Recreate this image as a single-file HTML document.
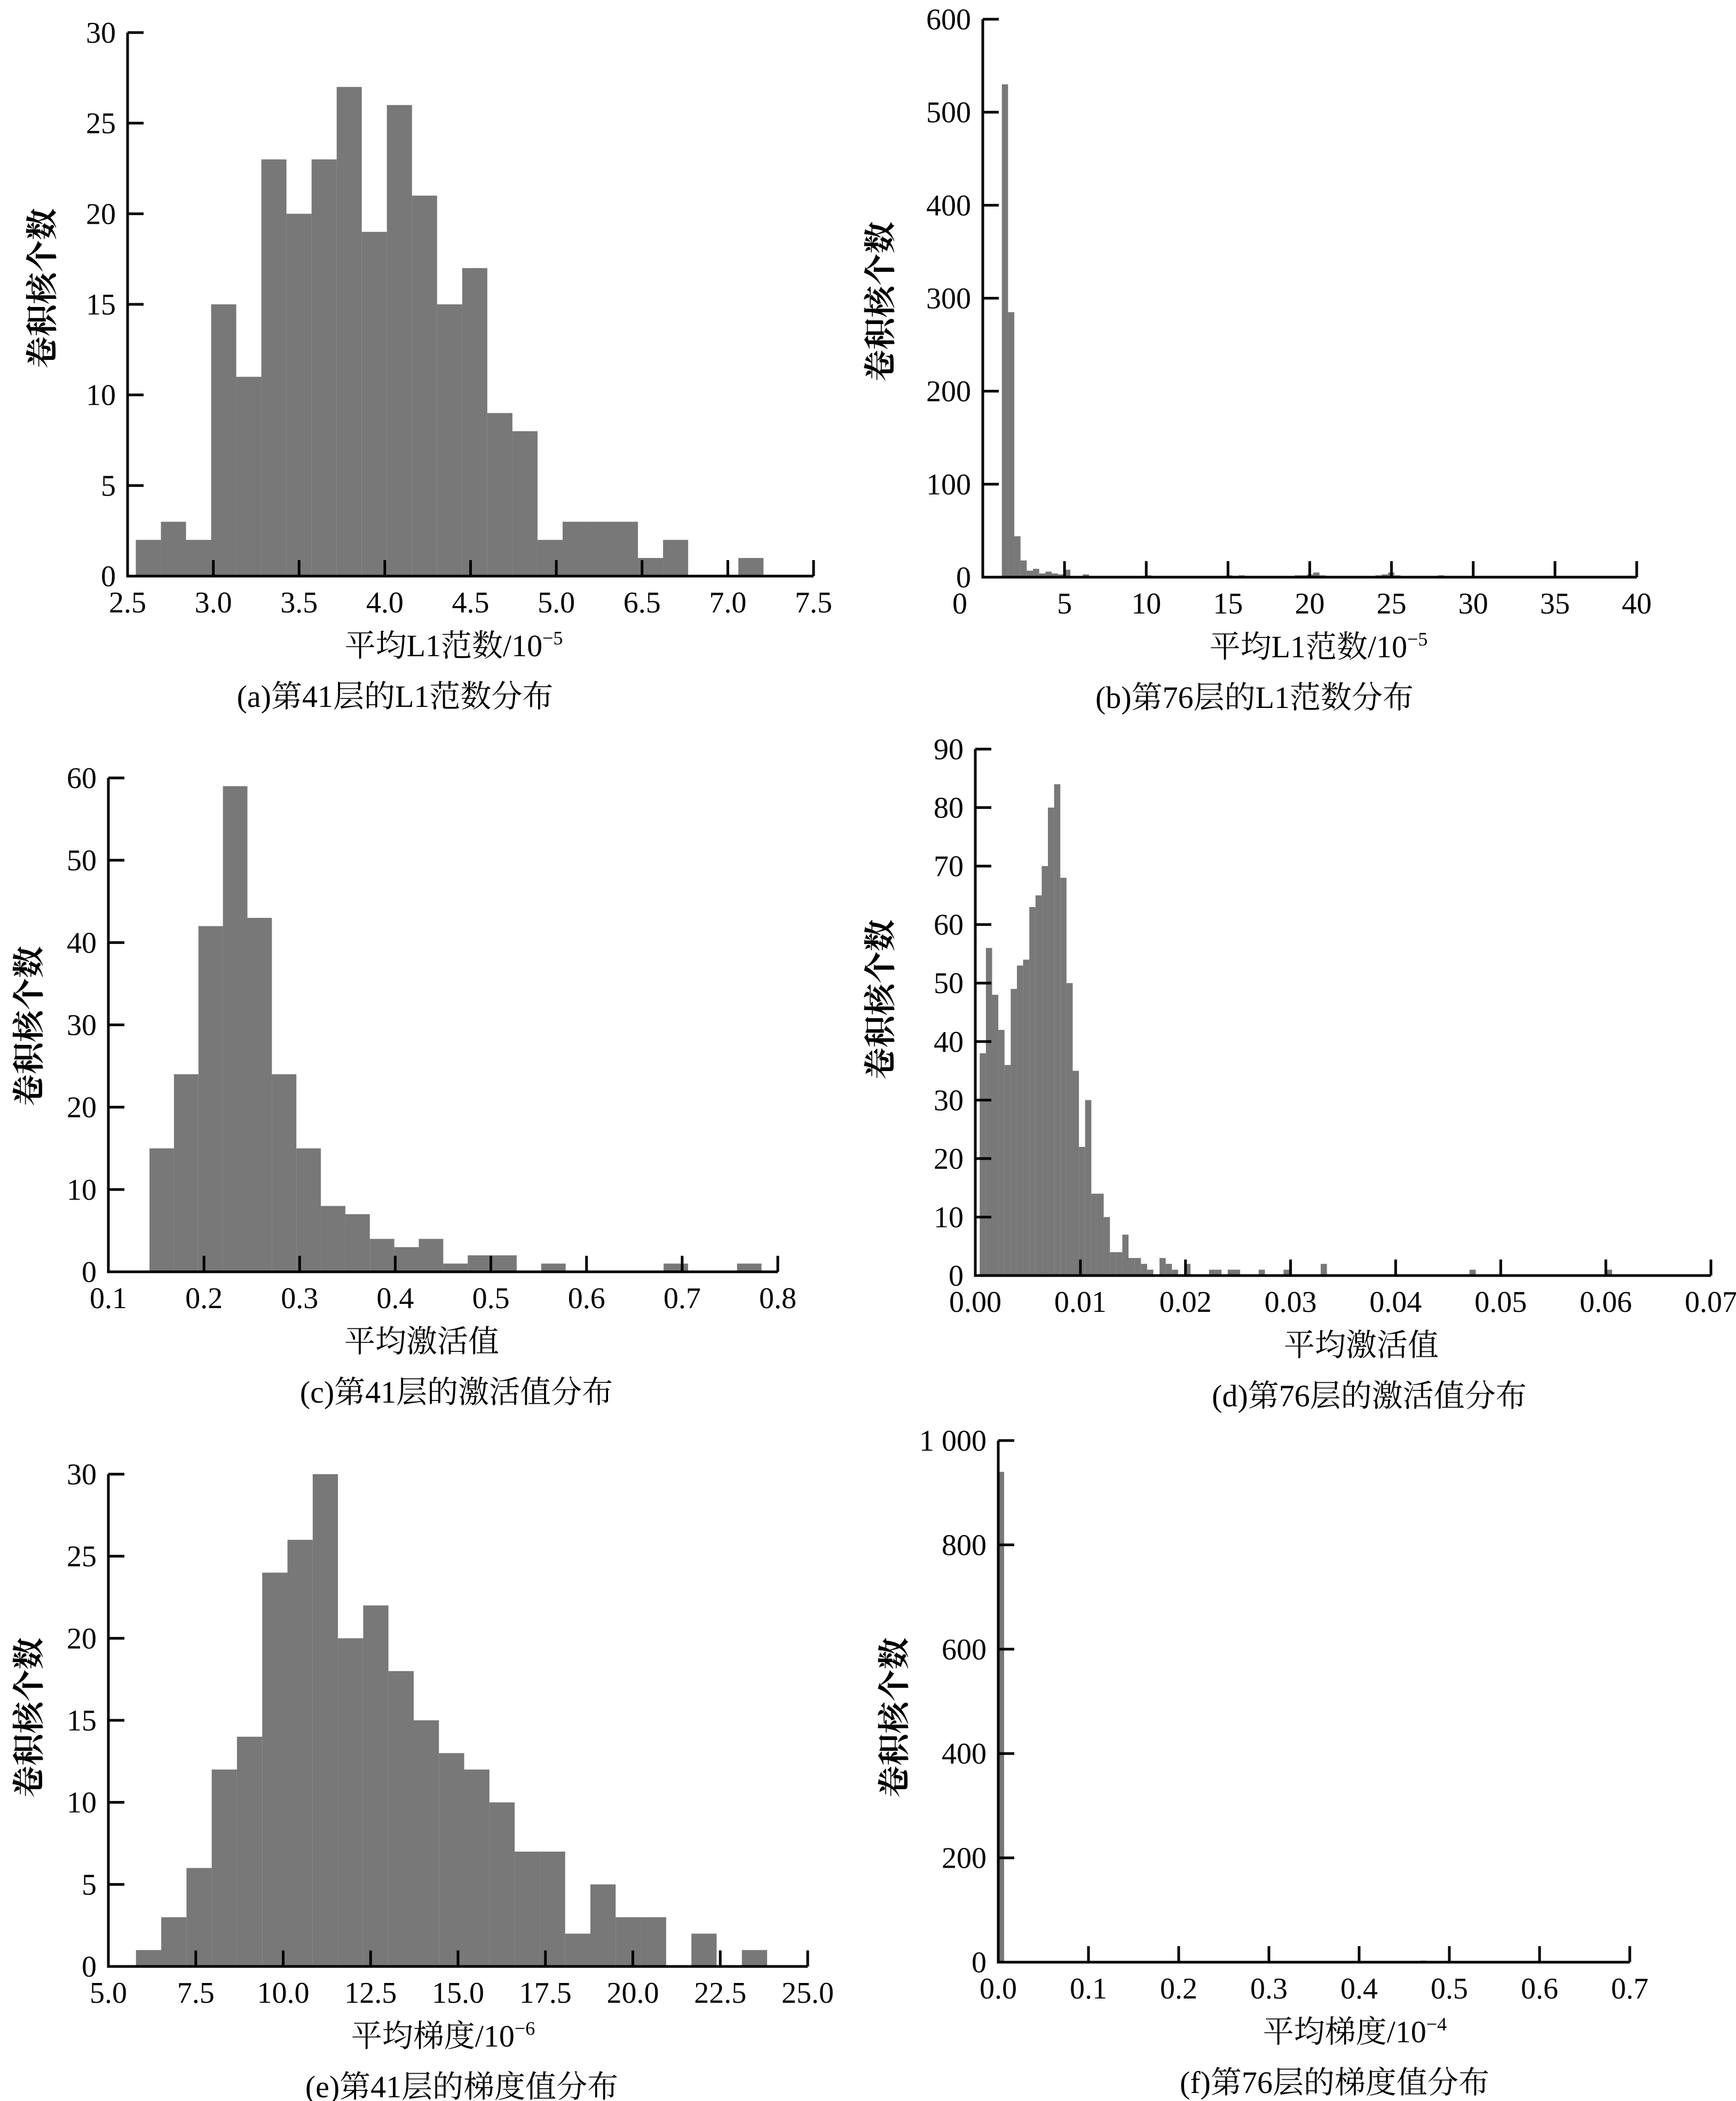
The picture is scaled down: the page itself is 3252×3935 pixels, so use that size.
<!DOCTYPE html>
<html><head><meta charset="utf-8">
<style>
html,body{margin:0;padding:0;background:#fff;}
svg{display:block;}
text{font-family:"Liberation Serif","Noto Serif CJK SC",serif;fill:#000;}
.tick{font-size:56px;}
.ttl{font-size:58px;}
.ytl{font-size:60px;font-weight:700;}
</style></head>
<body>
<svg id="fig" width="3252" height="3935" viewBox="0 0 3252 3935" xmlns="http://www.w3.org/2000/svg"></svg>
<script>
// ---------- chart data ----------
const aCounts=[2,3,2,15,11,23,20,23,27,19,26,21,15,17,9,8,2,3,3,3,1,2,0,0,1];
const aBin=[2.56,0.183];
const aXTicks=["2.5","3.0","3.5","4.0","4.5","5.0","6.5","7.0","7.5"];
const aYTicks=[0,5,10,15,20,25,30];

const bCounts=[530,285,44,18,7,9,4,6,4,3,8,0,1,3,1,0,1,0,1,0,0,0,1,2,1,0,0,1,0,0,0,1,0,0,0,1,2,1,2,0,1,0,0,1,1,0,1,2,2,3,5,2,1,0,0,1,0,1,0,1,2,3,5,2,1,1,0,1,0,1,2,0,0,1,1,0,1,0,0,0,1,1,0,0,1,0,0,0,1,0,0,0,0,1,0,0,0,0,0,0];
const bBin=[1.166,0.381];
const bXTicks=["0","5","10","15","20","25","30","35","40"];
const bYTicks=[0,100,200,300,400,500,600];

const cCounts=[15,24,42,59,43,24,15,8,7,4,3,4,1,2,2,0,1,0,0,0,0,1,0,0,1];
const cBin=[0.143,0.0256];
const cXTicks=["0.1","0.2","0.3","0.4","0.5","0.6","0.7","0.8"];
const cYTicks=[0,10,20,30,40,50,60];

const dCounts=[38,56,48,42,36,49,53,54,63,65,70,80,84,68,50,35,22,30,14,14,10,4,4,7,3,3,2,1,0,3,2,1,0,2,0,0,0,1,1,0,1,1,0,0,0,1,0,0,0,1,0,0,0,0,0,2,0,0,0,0,0,0,0,0,0,0,0,0,0,0,0,0,0,0,0,0,0,0,0,1,0,0,0,0,0,0,0,0,0,0,0,0,0,0,0,0,0,0,0,0,0,1];
const dBin=[0.00042,0.00059];
const dXTicks=["0.00","0.01","0.02","0.03","0.04","0.05","0.06","0.07"];
const dYTicks=[0,10,20,30,40,50,60,70,80,90];

const eCounts=[1,3,6,12,14,24,26,30,20,22,18,15,13,12,10,7,7,2,5,3,3,0,2,0,1];
const eBin=[5.79,0.722];
const eXTicks=["5.0","7.5","10.0","12.5","15.0","17.5","20.0","22.5","25.0"];
const eYTicks=[0,5,10,15,20,25,30];

const fCounts=[940,2,1,0,0,0,0,0,0,0,0,0,0,0,0,0,0,0,0,0,0,0,0,0,0,0,0,0,0,0,0,0,0,0,0,0,0,0,0,0,0,0,0,0,0,0,1,0,2,1,0,0,0,0,0,0,0,0,0,0,1,0,0,2,0,0,1,0,0,0,0,2,3,1,0,0,0,0,0,0,0,0,0,0,0,0,0,0,0,0,0,0,0,0,0,0,0,0,0,0,0,0,0,0,0,0,0,0];
const fBin=[0.0,0.0065];
const fXTicks=["0.0","0.1","0.2","0.3","0.4","0.5","0.6","0.7"];
const fYTicks=["0","200","400","600","800","1 000"];

const NS="http://www.w3.org/2000/svg";
const svg=document.getElementById('fig');
function mk(tag,attrs,parent){const e=document.createElementNS(NS,tag);for(const k in attrs)e.setAttribute(k,attrs[k]);(parent||svg).appendChild(e);return e;}

function chart(id,cfg,counts,bin,xt,yt,xTitle,xSup,caption){
  const g=mk('g',{});
  
  
  const X=v=>cfg.x0+(v-cfg.xmin)/(cfg.xmax-cfg.xmin)*(cfg.x1-cfg.x0);
  const Y=v=>cfg.y0-(v/cfg.ymax)*(cfg.y0-cfg.yt);
  // bars
  for(let i=0;i<counts.length;i++){
    if(counts[i]<=0)continue;
    const xa=X(bin[0]+i*bin[1]), xb=X(bin[0]+(i+1)*bin[1]);
    const r=mk('rect',{x:xa,y:Y(counts[i]),width:Math.max(xb-xa,1),height:cfg.y0-Y(counts[i]),fill:'#787878'},g);
    
    
  }
  // axes
  const ax=mk('path',{d:`M${cfg.x0} ${cfg.yt} V${cfg.y0} H${cfg.x1}`,stroke:'#000','stroke-width':5,fill:'none'},g);
  
  
  // y ticks
  const yvals=yt.map((t,i)=>i*cfg.ymax/(yt.length-1));
  yt.forEach((t,i)=>{
    const yy=Y(yvals[i]);
    mk('line',{x1:cfg.x0,x2:cfg.x0+30,y1:yy,y2:yy,stroke:'#000','stroke-width':5},g);
    const tx=mk('text',{x:cfg.x0-22,y:yy+19,'text-anchor':'end',class:'tick'},g);
    tx.textContent=t;
    
    
  });
  // x ticks
  xt.forEach((t,i)=>{
    const xx=cfg.x0+i*(cfg.x1-cfg.x0)/(xt.length-1);
    mk('line',{x1:xx,x2:xx,y1:cfg.y0,y2:cfg.y0-30,stroke:'#000','stroke-width':5},g);
    const tx=mk('text',{x:xx+(i===0&&cfg.zeroShift?-43:0),y:cfg.y0+68,'text-anchor':'middle',class:'tick'},g);
    tx.textContent=t;
    
    
  });
  // x title
  const xtl=mk('text',{x:cfg.tx,y:cfg.y0+150,'text-anchor':'middle',class:'ttl'},g);
  xtl.textContent=xTitle;
  if(xSup){const s=mk('tspan',{dy:-22,'font-size':36},xtl);s.textContent=xSup;}
  
  
  // y title
  const ytl=mk('text',{x:0,y:0,'text-anchor':'middle',class:'ytl',transform:`translate(${cfg.yx},${cfg.yy}) rotate(-90)`},g);
  ytl.textContent='卷积核个数';
  
  
  // caption
  const cp=mk('text',{x:cfg.cx,y:cfg.y0+245,'text-anchor':'middle',class:'ttl'},g);
  cp.textContent=caption;
  
  
}

chart('a',{x0:239,x1:1524,xmin:2.5,xmax:7.5,y0:1079,yt:61,ymax:30,tx:850,yx:100,yy:540,cx:740},aCounts,aBin,aXTicks,aYTicks,'平均L1范数/10','−5','(a)第41层的L1范数分布');
chart('b',{x0:1841,x1:3066,xmin:0,xmax:40,y0:1081,yt:36,ymax:600,tx:2470,yx:1670,yy:565,cx:2350,zeroShift:true},bCounts,bBin,bXTicks,bYTicks,'平均L1范数/10','−5','(b)第76层的L1范数分布');
chart('c',{x0:203,x1:1457,xmin:0.1,xmax:0.8,y0:2382,yt:1457,ymax:60,tx:790,yx:75,yy:1922,cx:855},cCounts,cBin,cXTicks,cYTicks,'平均激活值','','(c)第41层的激活值分布');
chart('d',{x0:1827,x1:3205,xmin:0,xmax:0.07,y0:2389,yt:1403,ymax:90,tx:2550,yx:1670,yy:1872,cx:2565},dCounts,dBin,dXTicks,dYTicks,'平均激活值','','(d)第76层的激活值分布');
chart('e',{x0:203,x1:1513,xmin:5,xmax:25,y0:3683,yt:2761,ymax:30,tx:830,yx:75,yy:3217,cx:865},eCounts,eBin,eXTicks,eYTicks,'平均梯度/10','−6','(e)第41层的梯度值分布');
chart('f',{x0:1870,x1:3053,xmin:0,xmax:0.7,y0:3675,yt:2698,ymax:1000,tx:2538,yx:1696,yy:3217,cx:2500},fCounts,fBin,fXTicks,fYTicks,'平均梯度/10','−4','(f)第76层的梯度值分布');
</script>
</body></html>
